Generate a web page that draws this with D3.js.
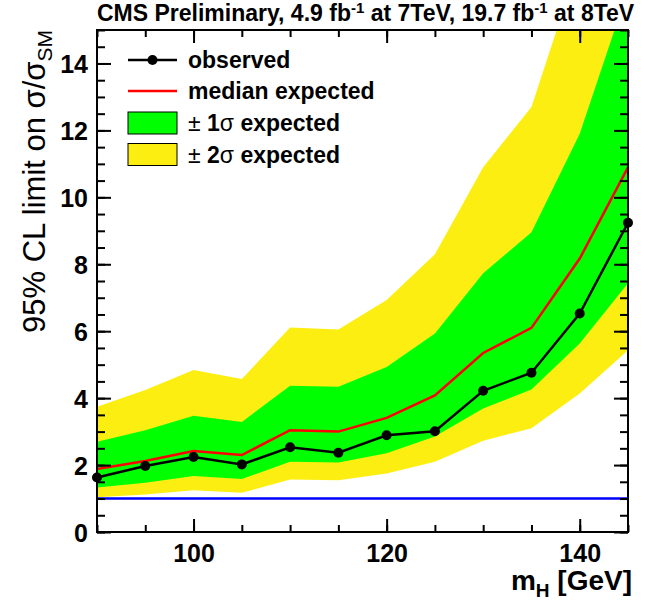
<!DOCTYPE html>
<html>
<head>
<meta charset="utf-8">
<script src="https://cdn.jsdelivr.net/npm/d3@7"></script>
<style>
  body { margin: 0; background: #fff; }
  svg { display: block; font-family: "Liberation Sans", Arial, sans-serif; }
</style>
</head>
<body>
<div id="chart"></div>
<script>
// Higgs mass points (GeV)
var masses = [90, 95, 100, 105, 110, 115, 120, 125, 130, 135, 140, 145];
// 95% CL limits on sigma/sigma_SM
var observed = [1.63, 1.97, 2.24, 2.02, 2.53, 2.37, 2.89, 3.01, 4.22, 4.76, 6.53, 9.24];
var expected = [1.88, 2.12, 2.42, 2.30, 3.04, 3.00, 3.41, 4.08, 5.35, 6.10, 8.17, 10.9];
var oneSigmaLo = [1.33, 1.47, 1.67, 1.58, 2.10, 2.08, 2.35, 2.85, 3.69, 4.26, 5.63, 7.43];
var oneSigmaHi = [2.70, 3.04, 3.47, 3.29, 4.37, 4.34, 4.93, 5.93, 7.73, 8.96, 11.9, 16.2];
var twoSigmaLo = [1.04, 1.12, 1.25, 1.17, 1.57, 1.55, 1.75, 2.10, 2.73, 3.10, 4.14, 5.43];
var twoSigmaHi = [3.74, 4.24, 4.84, 4.57, 6.11, 6.05, 6.93, 8.30, 10.9, 12.7, 17.1, 21.0];
var smLine = 1;

var xTicks = [100, 120, 140];
var yTicks = [0, 2, 4, 6, 8, 10, 12, 14];

var width = 652, height = 602;
// "top" clashes with window.top, so use prefixed names
var mLeft = 97, mRight = 628, mTop = 30, mBottom = 532;

var svg = d3.select("#chart").append("svg")
    .attr("width", width)
    .attr("height", height);

var x = d3.scaleLinear().domain([90, 145]).range([mLeft, mRight]);
var y = d3.scaleLinear().domain([0, 15]).range([mBottom, mTop]);

svg.append("defs").append("clipPath").attr("id", "plotclip")
    .append("rect")
    .attr("x", mLeft).attr("y", mTop)
    .attr("width", mRight - mLeft).attr("height", mBottom - mTop);

var plot = svg.append("g").attr("clip-path", "url(#plotclip)");

var rows = masses.map(function(m, i) {
    return {m: m, obs: observed[i], exp: expected[i],
            lo1: oneSigmaLo[i], hi1: oneSigmaHi[i],
            lo2: twoSigmaLo[i], hi2: twoSigmaHi[i]};
});

// bands
plot.append("path")
    .datum(rows)
    .attr("fill", "#fcee10")
    .attr("d", d3.area().x(function(d) { return x(d.m); })
        .y0(function(d) { return y(d.lo2); })
        .y1(function(d) { return y(d.hi2); }));

plot.append("path")
    .datum(rows)
    .attr("fill", "#00ff00")
    .attr("d", d3.area().x(function(d) { return x(d.m); })
        .y0(function(d) { return y(d.lo1); })
        .y1(function(d) { return y(d.hi1); }));

// SM = 1 line
plot.append("line")
    .attr("x1", mLeft).attr("x2", mRight)
    .attr("y1", y(smLine)).attr("y2", y(smLine))
    .attr("stroke", "#0000ff")
    .attr("stroke-width", 2.5);

// median expected
plot.append("path")
    .datum(rows)
    .attr("fill", "none")
    .attr("stroke", "#ff0000")
    .attr("stroke-width", 2.5)
    .attr("d", d3.line().x(function(d) { return x(d.m); }).y(function(d) { return y(d.exp); }));

// observed
svg.append("path")
    .datum(rows)
    .attr("fill", "none")
    .attr("stroke", "#000")
    .attr("stroke-width", 2.5)
    .attr("d", d3.line().x(function(d) { return x(d.m); }).y(function(d) { return y(d.obs); }));

svg.selectAll("circle.obs")
    .data(rows)
    .enter().append("circle")
    .attr("class", "obs")
    .attr("cx", function(d) { return x(d.m); })
    .attr("cy", function(d) { return y(d.obs); })
    .attr("r", 5)
    .attr("fill", "#000");

// axes: ticks point inwards on all four sides
var xMinor = d3.range(90, 146, 5);
var yMinor = d3.range(0, 15.01, 0.5);

function styleAxis(g) {
    g.select(".domain").remove();
    g.selectAll(".tick line").attr("stroke", "#000").attr("stroke-width", 2);
}

svg.append("g").attr("transform", "translate(0," + mBottom + ")")
    .call(d3.axisBottom(x).tickValues(xMinor).tickSize(-7).tickFormat(""))
    .call(styleAxis);
svg.append("g").attr("transform", "translate(0," + mBottom + ")")
    .call(d3.axisBottom(x).tickValues(xTicks).tickSize(-13).tickFormat(d3.format("d")))
    .call(styleAxis)
    .call(function(g) {
        g.selectAll("text").attr("fill", "#000").attr("font-size", 25).attr("font-weight", "bold")
            .attr("font-family", "Liberation Sans, Arial, sans-serif")
            .attr("dy", 0).attr("y", 30);
    });
svg.append("g").attr("transform", "translate(0," + mTop + ")")
    .call(d3.axisTop(x).tickValues(xMinor).tickSize(-7).tickFormat(""))
    .call(styleAxis);
svg.append("g").attr("transform", "translate(0," + mTop + ")")
    .call(d3.axisTop(x).tickValues(xTicks).tickSize(-13).tickFormat(""))
    .call(styleAxis);

svg.append("g").attr("transform", "translate(" + mLeft + ",0)")
    .call(d3.axisLeft(y).tickValues(yMinor).tickSize(-8).tickFormat(""))
    .call(styleAxis);
svg.append("g").attr("transform", "translate(" + mLeft + ",0)")
    .call(d3.axisLeft(y).tickValues(yTicks).tickSize(-14).tickFormat(d3.format("d")))
    .call(styleAxis)
    .call(function(g) {
        g.selectAll("text").attr("fill", "#000").attr("font-size", 25).attr("font-weight", "bold")
            .attr("font-family", "Liberation Sans, Arial, sans-serif")
            .attr("x", -9).attr("dy", "0.36em");
    });
svg.append("g").attr("transform", "translate(" + mRight + ",0)")
    .call(d3.axisRight(y).tickValues(yMinor).tickSize(-8).tickFormat(""))
    .call(styleAxis);
svg.append("g").attr("transform", "translate(" + mRight + ",0)")
    .call(d3.axisRight(y).tickValues(yTicks).tickSize(-14).tickFormat(""))
    .call(styleAxis);

// frame
svg.append("rect")
    .attr("x", mLeft).attr("y", mTop)
    .attr("width", mRight - mLeft).attr("height", mBottom - mTop)
    .attr("fill", "none")
    .attr("stroke", "#000")
    .attr("stroke-width", 2);

// title
var title = svg.append("text")
    .attr("x", 97).attr("y", 21)
    .attr("font-size", 23).attr("font-weight", "bold");
title.append("tspan").text("CMS Preliminary, 4.9 fb");
title.append("tspan").attr("font-size", 15).attr("dy", -8).text("-1");
title.append("tspan").attr("dy", 8).text(" at 7TeV, 19.7 fb");
title.append("tspan").attr("font-size", 15).attr("dy", -8).text("-1");
title.append("tspan").attr("dy", 8).text(" at 8TeV");

// y axis title
var ylab = svg.append("text")
    .attr("transform", "translate(45," + mTop + ") rotate(-90)")
    .attr("text-anchor", "end")
    .attr("font-size", 31);
ylab.append("tspan").text("95% CL limit on \u03c3/\u03c3");
ylab.append("tspan").attr("font-size", 21).attr("dy", 7).text("SM");

// x axis title
var xlab = svg.append("text")
    .attr("x", 632).attr("y", 590)
    .attr("text-anchor", "end")
    .attr("font-size", 28).attr("font-weight", "bold");
xlab.append("tspan").text("m");
xlab.append("tspan").attr("font-size", 19).attr("dy", 7).text("H");
xlab.append("tspan").attr("dy", -7).text(" [GeV]");

// legend
var leg = svg.append("g").attr("font-size", 23).attr("font-weight", "bold");
var legX0 = 128, legX1 = 177, legTx = 188;
var legY = [60, 91, 123, 154.5];

leg.append("line").attr("x1", legX0).attr("x2", legX1)
    .attr("y1", legY[0]).attr("y2", legY[0])
    .attr("stroke", "#000").attr("stroke-width", 2.5);
leg.append("circle").attr("cx", (legX0 + legX1) / 2).attr("cy", legY[0]).attr("r", 5);
leg.append("text").attr("x", legTx).attr("y", legY[0]).attr("dy", "0.35em").text("observed");

leg.append("line").attr("x1", legX0).attr("x2", legX1)
    .attr("y1", legY[1]).attr("y2", legY[1])
    .attr("stroke", "#ff0000").attr("stroke-width", 2.5);
leg.append("text").attr("x", legTx).attr("y", legY[1]).attr("dy", "0.35em").text("median expected");

leg.append("rect").attr("x", legX0).attr("y", legY[2] - 11).attr("width", legX1 - legX0).attr("height", 22)
    .attr("fill", "#00ff00").attr("stroke", "#000").attr("stroke-width", 1);
var t1 = leg.append("text").attr("x", legTx).attr("y", legY[2]).attr("dy", "0.35em");
t1.append("tspan").attr("font-weight", "normal").text("\u00b1 ");
t1.append("tspan").text("1");
t1.append("tspan").attr("font-weight", "normal").text("\u03c3");
t1.append("tspan").text(" expected");

leg.append("rect").attr("x", legX0).attr("y", legY[3] - 11).attr("width", legX1 - legX0).attr("height", 22)
    .attr("fill", "#fcee10").attr("stroke", "#000").attr("stroke-width", 1);
var t2 = leg.append("text").attr("x", legTx).attr("y", legY[3]).attr("dy", "0.35em");
t2.append("tspan").attr("font-weight", "normal").text("\u00b1 ");
t2.append("tspan").text("2");
t2.append("tspan").attr("font-weight", "normal").text("\u03c3");
t2.append("tspan").text(" expected");
</script>
</body>
</html>
